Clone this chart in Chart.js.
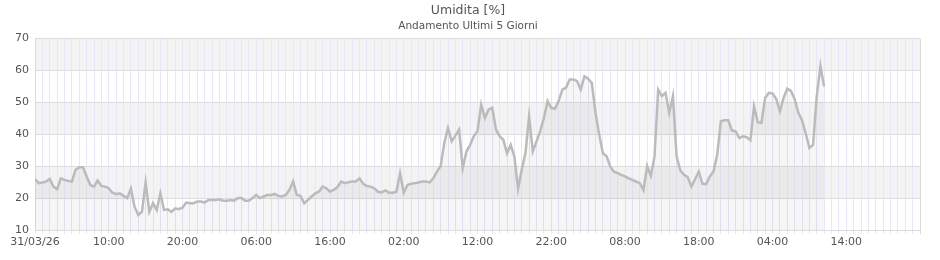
<!DOCTYPE html>
<html>
<head>
<meta charset="utf-8">
<script src="https://cdn.jsdelivr.net/npm/chart.js@4"></script>
<style>
  html, body { margin: 0; padding: 0; background: #fff; }
  #wrap { width: 940px; height: 260px; }
</style>
</head>
<body>
<div id="wrap"><canvas id="chartCanvas"></canvas></div>
<script>
// humidity readings, one every half hour starting 31/03/26 00:00
const humidity = [
  26, 24.7, 24.9, 25.2, 26, 23.6, 22.8, 26.2, 25.7, 25.4,
  25.2, 28.9, 29.7, 29.7, 26.8, 24.1, 23.6, 25.5, 23.8, 23.6,
  23.1, 21.7, 21.2, 21.5, 20.7, 20, 23, 17.3, 14.7, 15.7,
  24.9, 15.7, 18.4, 16.3, 21.5, 16.3, 16.5, 15.7, 16.8, 16.5,
  17, 18.6, 18.4, 18.4, 18.9, 18.9, 18.6, 19.4, 19.4, 19.4,
  19.6, 19.2, 19.2, 19.4, 19.2, 20, 20, 19.2, 19.2, 20,
  21, 20, 20.5, 21, 21, 21.3, 20.7, 20.5, 21, 22.6,
  25.2, 21, 20.7, 18.4, 19.4, 20.5, 21.5, 22, 23.6, 23.1,
  22, 22.6, 23.4, 25.2, 24.7, 25, 25.2, 25.2, 26.2, 24.5,
  23.8, 23.6, 23.1, 22, 21.8, 22.4, 21.7, 21.7, 22, 27.8,
  21.7, 24.1, 24.5, 24.7, 24.9, 25.2, 25.2, 24.9, 26.2, 28.3,
  30, 37.3, 42, 37.8, 39.6, 41.5, 29.4, 34.6, 36.7, 39.4,
  41, 49.3, 45.1, 47.8, 48.3, 41.5, 39.4, 38.3, 34, 36.7,
  33, 23, 28.9, 34.1, 45.6, 34.6, 37.8, 41, 45.1, 50.4,
  48.3, 48, 50.4, 54, 54.6, 57.2, 57.2, 56.7, 54, 58.2,
  57.4, 56.1, 46.7, 39.9, 34.1, 33.1, 29.9, 28.3, 27.8, 27.3,
  26.8, 26.2, 25.7, 25.2, 24.7, 22.5, 30, 27, 33, 54,
  52, 53, 46.7, 52, 33, 28.7, 27.3, 26.6, 23.6, 25.9,
  28.3, 24.5, 24.4, 26.8, 28.3, 33.6, 44.1, 44.4, 44.4, 41.2,
  40.9, 38.8, 39.4, 39.1, 38.1, 48.8, 43.8, 43.6, 51.4, 53,
  52.8, 51.1, 47.2, 51.4, 54.3, 53.6, 51.1, 46.7, 44.4, 40.4,
  35.7, 36.7, 52, 61.4, 55
];
const stepHours = 0.5;
// x axis labels, one every 10 hours
const tickLabels = ['31/03/26', '10:00', '20:00', '06:00', '16:00', '02:00',
  '12:00', '22:00', '08:00', '18:00', '04:00', '14:00', ''];
const yTicks = [10, 20, 30, 40, 50, 60, 70];

const points = humidity.map((v, i) => ({ x: i * stepHours, y: v }));

const textColor = '#555';
const fontFamily = '"DejaVu Sans", sans-serif';

// alternating grey bands behind the plot
const bandsPlugin = {
  id: 'bands',
  beforeDraw(chart) {
    const { ctx, chartArea, scales } = chart;
    ctx.save();
    ctx.fillStyle = '#f3f3f3';
    for (let v = 20; v < 70; v += 20) {
      const top = scales.y.getPixelForValue(v + 10);
      const bot = scales.y.getPixelForValue(v);
      ctx.fillRect(chartArea.left, top, chartArea.right - chartArea.left, bot - top);
    }
    ctx.restore();
  }
};

const ctx = document.getElementById('chartCanvas').getContext('2d');
new Chart(ctx, {
  type: 'line',
  data: {
    datasets: [{
      label: 'Umidita',
      data: points,
      borderColor: '#bbbbbb',
      borderWidth: 2.5,
      backgroundColor: 'rgba(0,0,0,0.035)',
      fill: 'start',
      pointRadius: 0,
      tension: 0
    }]
  },
  options: {
    responsive: true,
    maintainAspectRatio: false,
    animation: false,
    layout: { padding: { left: 16, right: 20, top: 0, bottom: 0 } },
    plugins: {
      legend: { display: false },
      tooltip: { enabled: false },
      title: {
        display: true,
        text: 'Umidita [%]',
        color: textColor,
        font: { family: fontFamily, size: 12.5, weight: 'normal' },
        padding: { top: 3, bottom: 2 }
      },
      subtitle: {
        display: true,
        text: 'Andamento Ultimi 5 Giorni',
        color: textColor,
        font: { family: fontFamily, size: 10.5 },
        padding: { top: 0, bottom: 6 }
      }
    },
    scales: {
      x: {
        type: 'linear',
        min: 0,
        max: 120,
        afterFit: s => { s.height = 30; },
        afterBuildTicks: s => {
          s.ticks = [];
          for (let h = 0; h <= 120; h++) s.ticks.push({ value: h });
        },
        ticks: {
          autoSkip: false,
          maxRotation: 0,
          padding: 2,
          color: textColor,
          font: { family: fontFamily, size: 11 },
          callback: v => (v % 10 === 0 ? tickLabels[v / 10] : '')
        },
        grid: {
          color: c => (c.tick && c.tick.value === 120 ? '#dcdcdc' : '#e8e6f8'),
          tickLength: 4
        },
        border: { color: '#dcdcdc' }
      },
      y: {
        min: 10,
        max: 70,
        afterFit: s => { s.width = 19; },
        afterBuildTicks: s => { s.ticks = yTicks.map(v => ({ value: v })); },
        ticks: {
          padding: 6,
          color: textColor,
          font: { family: fontFamily, size: 11 }
        },
        grid: { color: '#dddddd', tickLength: 0 },
        border: { color: '#dcdcdc' }
      }
    }
  },
  plugins: [bandsPlugin]
});
</script>
</body>
</html>
